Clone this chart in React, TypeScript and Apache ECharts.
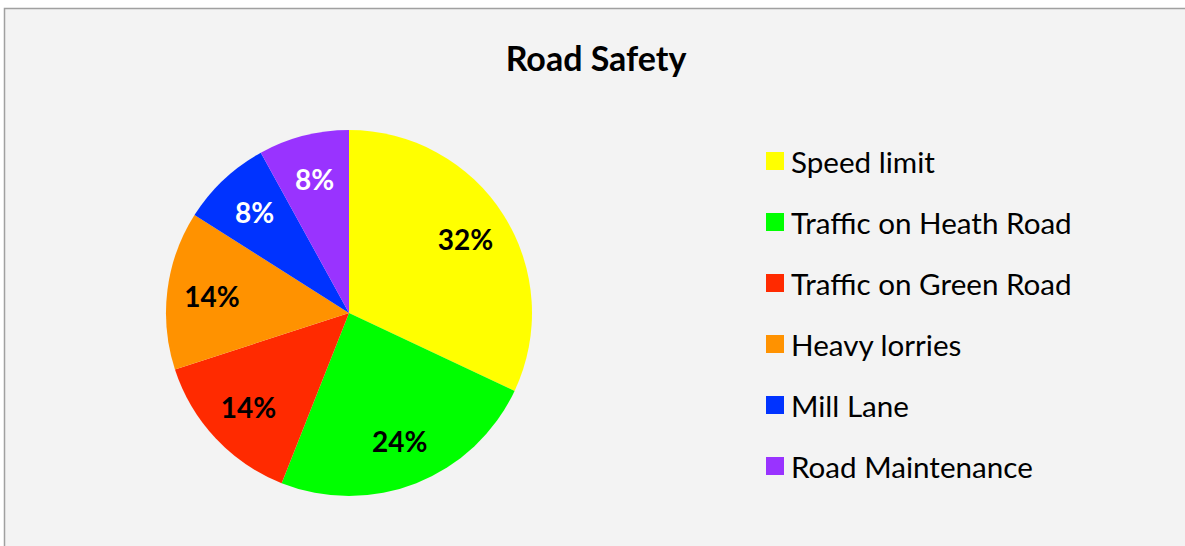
import React, { useEffect, useRef } from "react";
import * as echarts from "echarts";

const categories = [
  "Speed limit",
  "Traffic on Heath Road",
  "Traffic on Green Road",
  "Heavy lorries",
  "Mill Lane",
  "Road Maintenance",
];
const values = [32, 24, 14, 14, 8, 8];
const colors = ["#ffff00", "#00ff00", "#ff2a00", "#ff9200", "#0033ff", "#9933ff"];
const labelColors = ["#000000", "#000000", "#000000", "#000000", "#ffffff", "#ffffff"];
const titleText = "Road Safety";

const FONT = "Lato, 'Open Sans', sans-serif";

export default function App() {
  const ref = useRef<HTMLDivElement>(null);
  useEffect(() => {
    if (!ref.current) return;
    const chart = echarts.init(ref.current, null, { renderer: "svg" });
    const data = categories.map((name, i) => ({
      name,
      value: values[i],
      itemStyle: { color: colors[i] },
    }));
    const labelData = categories.map((name, i) => ({
      name,
      value: values[i],
      label: { color: labelColors[i] },
    }));
    chart.setOption({
      animation: false,
      backgroundColor: "#ffffff",
      graphic: [
        {
          type: "rect",
          z: -10,
          shape: { x: 4.5, y: 8.5, width: 1300, height: 700 },
          style: { fill: "#f3f3f3", stroke: "#a0a0a0", lineWidth: 1.5 },
          silent: true,
        },
      ],
      title: {
        text: titleText,
        left: 591,
        top: 35,
        textAlign: "center",
        textStyle: { fontFamily: FONT, fontSize: 34, fontWeight: "bold", color: "#000" },
      },
      legend: {
        orient: "vertical",
        left: 761,
        top: 140,
        itemWidth: 18,
        itemHeight: 18,
        itemGap: 29,
        icon: "rect",
        data: categories,
        textStyle: {
          fontFamily: FONT,
          fontSize: 29.6,
          lineHeight: 32,
          color: "#000",
          padding: [0, 0, 0, 2],
        },
      },
      series: [
        {
          type: "pie",
          center: [349, 313],
          radius: [0, 183],
          startAngle: 90,
          clockwise: true,
          data,
          label: { show: false },
          labelLine: { show: false },
          emphasis: { disabled: true },
        },
        {
          type: "pie",
          center: [349, 313],
          radius: [87, 183],
          startAngle: 90,
          clockwise: true,
          silent: true,
          data: labelData,
          itemStyle: { color: "transparent" },
          label: {
            show: true,
            position: "inside",
            formatter: "{d}%",
            fontFamily: FONT,
            fontSize: 28,
            fontWeight: "bold",
          },
          labelLine: { show: false },
          emphasis: { disabled: true },
        },
      ],
    });
    return () => chart.dispose();
  }, []);
  return (
    <div
      ref={ref}
      style={{ position: "absolute", left: 0, top: 0, width: 1185, height: 546 }}
    />
  );
}
